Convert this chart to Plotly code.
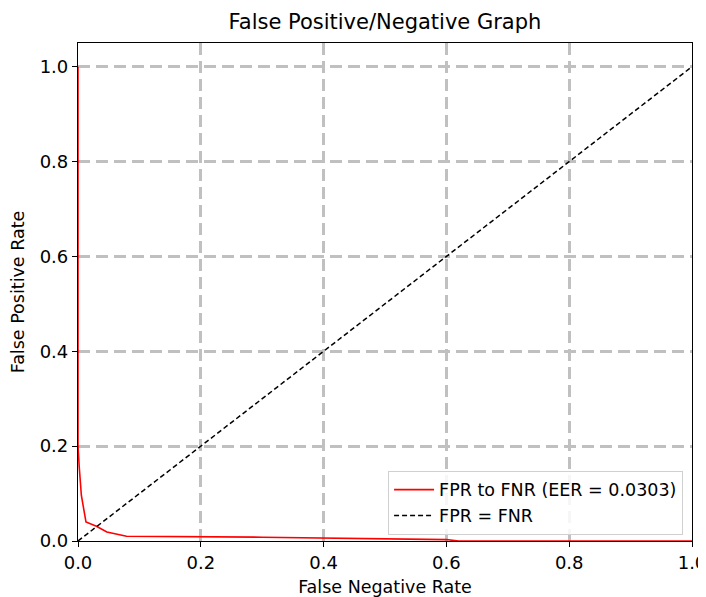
import plotly.graph_objects as go

# Data
fnr = [0.0, 0.0, 0.002, 0.0055, 0.013, 0.030, 0.047, 0.079, 0.30, 0.50, 0.60, 0.62, 1.0]
fpr = [1.0, 0.2, 0.156, 0.096, 0.040, 0.031, 0.019, 0.010, 0.008, 0.005, 0.003, 0.0, 0.0]
diag = [0.0, 1.0]
eer = 0.0303
ticks = [0.0, 0.2, 0.4, 0.6, 0.8, 1.0]
tick_text = ["0.0", "0.2", "0.4", "0.6", "0.8", "1.0"]

font = "DejaVu Sans"

fig = go.Figure()
fig.add_trace(go.Scatter(x=fnr, y=fpr, mode="lines",
                         line=dict(color="red", width=1.6),
                         name=f"FPR to FNR (EER = {eer:.4f})"))
fig.add_trace(go.Scatter(x=diag, y=diag, mode="lines",
                         line=dict(color="black", width=1.5, dash="5px,3px"),
                         name="FPR = FNR"))

axis_common = dict(
    showline=True, linecolor="black", linewidth=1.2, mirror=True,
    ticks="outside", ticklen=5, tickcolor="black", tickwidth=1.2,
    showgrid=True, gridcolor="#c0c0c0", gridwidth=3, griddash="12px,6px",
    zeroline=False, tickvals=ticks, ticktext=tick_text, automargin=False,
    tickfont=dict(family=font, size=18, color="black"),
)

# The page body has an 8px margin; the plot area is placed to match the reference.
W, H = 706, 589
fig.update_layout(
    width=W, height=H,
    paper_bgcolor="white", plot_bgcolor="white",
    margin=dict(l=70, r=22, t=35, b=56),
    title=dict(text="False Positive/Negative Graph", x=0.5, xref="paper",
               xanchor="center", y=1 - 14 / H, yanchor="middle",
               font=dict(family=font, size=21, color="black")),
    xaxis=dict(range=[0, 1], title=dict(text="False Negative Rate",
               font=dict(family=font, size=17.5, color="black")), **axis_common),
    yaxis=dict(range=[0, 1.05], title=dict(text="False Positive Rate",
               font=dict(family=font, size=17.5, color="black")), **axis_common),
    legend=dict(x=0.505, y=0.141, xanchor="left", yanchor="top",
                bgcolor="rgba(255,255,255,0.85)", bordercolor="#d0d0d0", borderwidth=1,
                font=dict(family=font, size=17.5, color="black"),
                itemwidth=40, tracegroupgap=0),
    showlegend=True,
)

fig.write_html("out.html")
